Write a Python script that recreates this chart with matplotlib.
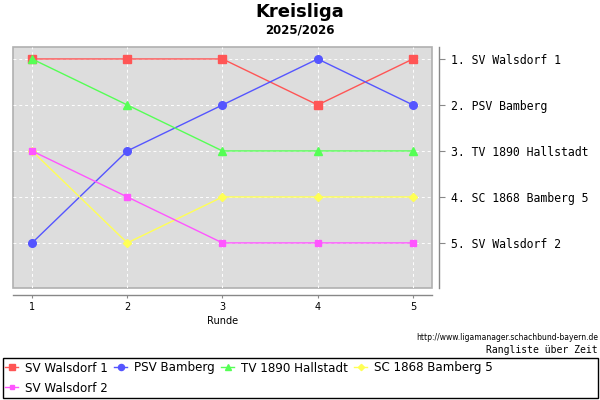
import matplotlib
matplotlib.use('Agg')
import matplotlib.pyplot as plt
from matplotlib.patches import Rectangle

runden = [1, 2, 3, 4, 5]
teams = ['SV Walsdorf 1', 'PSV Bamberg', 'TV 1890 Hallstadt', 'SC 1868 Bamberg 5', 'SV Walsdorf 2']
plaetze = [
    [1, 1, 1, 2, 1],
    [5, 3, 2, 1, 2],
    [1, 2, 3, 3, 3],
    [3, 5, 4, 4, 4],
    [3, 4, 5, 5, 5],
]
endstand = ['SV Walsdorf 1', 'PSV Bamberg', 'TV 1890 Hallstadt', 'SC 1868 Bamberg 5', 'SV Walsdorf 2']

farben = ['#ff5555', '#5555ff', '#55ff55', '#ffff55', '#ff55ff']
marker = ['s', 'o', '^', 'D', 's']
msize = [5.2, 5.5, 5.5, 4, 4]

W, H = 600, 400
fig = plt.figure(figsize=(6, 4), dpi=100)

def px(x0, y0, x1, y1):
    return [x0 / W, 1 - y1 / H, (x1 - x0) / W, (y1 - y0) / H]

ax = fig.add_axes(px(13, 47, 432, 288))
ax.set_facecolor('#dddddd')
ax.patch.set_edgecolor('#b0b0b0')
ax.patch.set_linewidth(1.2)

for i, t in enumerate(teams):
    ax.plot(runden, plaetze[i], color=farben[i], marker=marker[i], markersize=msize[i],
            linewidth=1, label=t, zorder=3)

ax.set_xlim(0.8, 5.2)
ax.set_ylim(5.98, 0.74)
ax.yaxis.tick_right()
ax.set_xticks(runden)
ax.set_xticklabels([str(r) for r in runden])
ax.set_yticks([1, 2, 3, 4, 5])
ax.set_yticklabels(['%d. %s' % (i + 1, n) for i, n in enumerate(endstand)])
ax.grid(True, color='white', linestyle='--', linewidth=0.7, dashes=(3, 3))
ax.set_axisbelow(True)

for s in ['top', 'left']:
    ax.spines[s].set_visible(False)
for s in ['bottom', 'right']:
    ax.spines[s].set_position(('outward', 5))
    ax.spines[s].set_color('#888888')
    ax.spines[s].set_linewidth(1)
ax.tick_params(axis='x', length=2, color='#888888', pad=3, labelsize=7)
ax.tick_params(axis='y', length=4, color='#888888', pad=5, labelsize=8.3)
for lab in ax.get_yticklabels():
    lab.set_family('DejaVu Sans Mono')
ax.set_xlabel('Runde', fontsize=7, labelpad=3)

fig.text(0.5, 1 - 12 / H, 'Kreisliga', ha='center', va='center', fontsize=13, fontweight='bold')
fig.text(0.5, 1 - 30 / H, '2025/2026', ha='center', va='center', fontsize=8.5, fontweight='bold')
fig.text(598 / W, 1 - 338 / H, 'http://www.ligamanager.schachbund-bayern.de', ha='right', va='center',
         fontsize=5.5, family='DejaVu Sans Condensed')
fig.text(598 / W, 1 - 350 / H, 'Rangliste über Zeit', ha='right', va='center',
         fontsize=7, family='DejaVu Sans Mono')

fig.patches.append(Rectangle((3 / W, 1 - 398 / H), 595 / W, 40 / H, transform=fig.transFigure,
                             fill=False, edgecolor='black', linewidth=1))
handles, labels = ax.get_legend_handles_labels()
order = [0, 4, 1, 2, 3]
leg = fig.legend([handles[k] for k in order], [labels[k] for k in order], loc='upper left',
                 bbox_to_anchor=(5 / W, 1 - 361.5 / H), ncol=4,
                 frameon=False, fontsize=8.6, handlelength=1.1, handletextpad=0.55, columnspacing=0.55,
                 labelspacing=0.6, borderpad=0, borderaxespad=0, markerscale=0.8)

fig.savefig('out.png', dpi=100)
